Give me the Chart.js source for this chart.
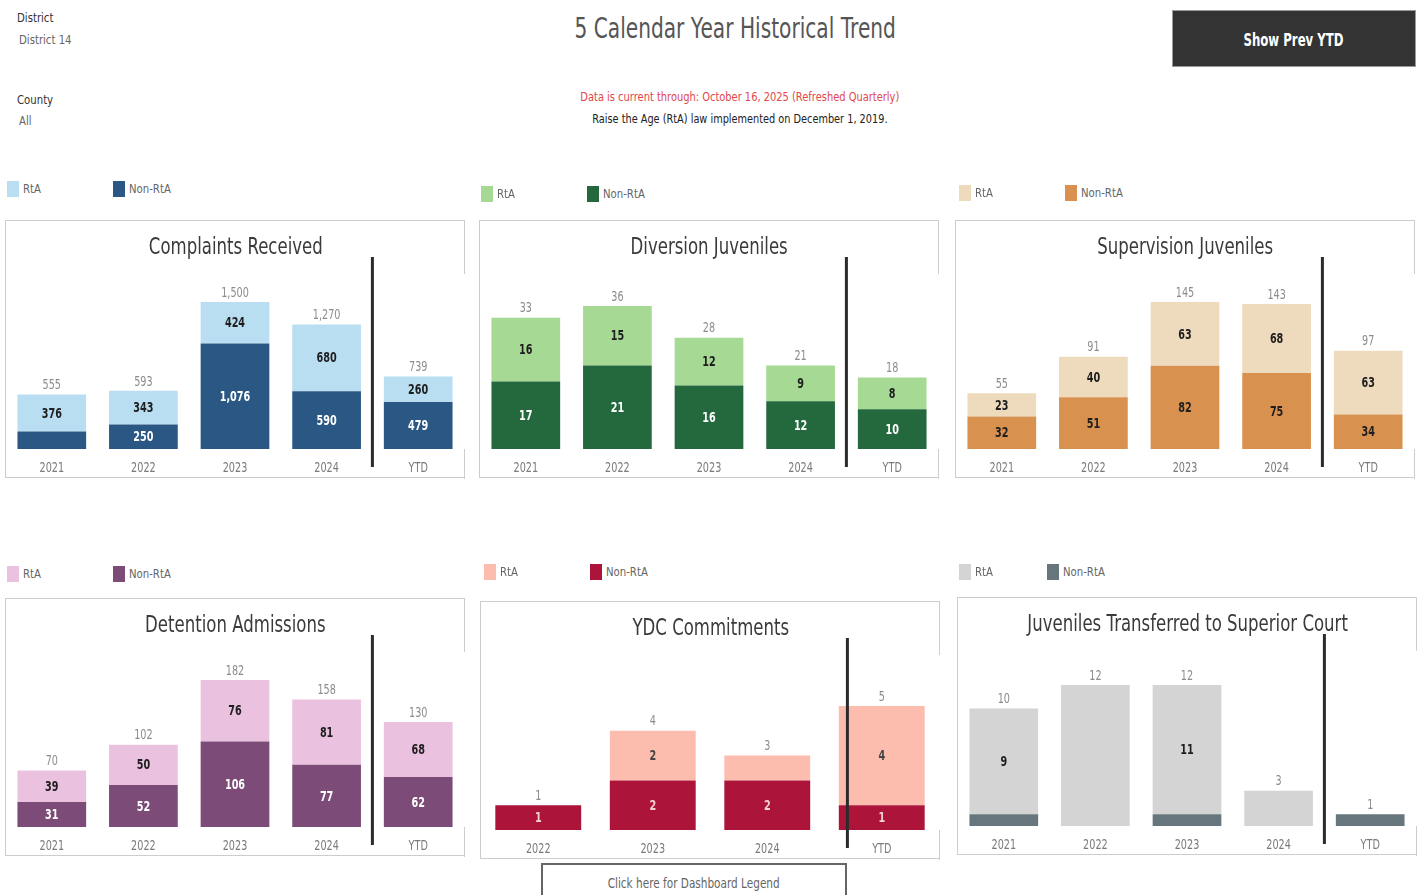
<!DOCTYPE html>
<html>
<head>
<meta charset="utf-8">
<script src="https://cdn.jsdelivr.net/npm/chart.js@4.4.1/dist/chart.umd.min.js"></script>
<style>
  body { margin: 0; background: #fff; font-family: "DejaVu Sans", sans-serif; }
  #page { position: relative; width: 1424px; height: 895px; overflow: hidden; }
  .abs { position: absolute; white-space: nowrap; }
  .n { display: inline-block; transform: scaleX(0.78); transform-origin: left center; }
  .nc { display: inline-block; transform: scaleX(0.76); transform-origin: center center; }
  .box { position: absolute; width: 460px; height: 258px; border: 1px solid #cdcdcd; border-right: none; box-sizing: border-box; }
  .box canvas { position: absolute; left: 0; top: 0; }
  .rb { position: absolute; right: 0; width: 1px; background: #cdcdcd; }
  .ptitle { position: absolute; left: 0; right: 0; top: 12px; text-align: center; font-size: 23px; color: #3a3a3a; white-space: nowrap; }
  .ptitle span { display: inline-block; transform: scaleX(0.72); transform-origin: center center; }
  .leg { position: absolute; font-size: 13px; color: #666; white-space: nowrap; }
  .leg span.sw { position: absolute; left: 0; top: 0; width: 12px; height: 16px; }
  .leg span.tx { position: absolute; left: 16px; top: 0; line-height: 16px; transform: scaleX(0.78); transform-origin: left center; }
</style>
</head>
<body>
<div id="page">
  <div class="abs" style="left:17px;top:10px;font-size:13px;color:#333;"><span class="n">District</span></div>
  <div class="abs" style="left:19px;top:32px;font-size:13px;color:#666;"><span class="n">District 14</span></div>
  <div class="abs" style="left:17px;top:92px;font-size:13px;color:#333;"><span class="n">County</span></div>
  <div class="abs" style="left:19px;top:113px;font-size:13px;color:#666;"><span class="n">All</span></div>

  <div class="abs" style="left:485px;width:500px;top:12px;text-align:center;font-size:28px;color:#555;"><span class="nc" style="transform:scaleX(0.72)">5 Calendar Year Historical Trend</span></div>
  <div class="abs" style="left:490px;width:500px;top:89px;text-align:center;font-size:13px;color:#e0474c;"><span class="nc">Data is current through: October 16, 2025 (Refreshed Quarterly)</span></div>
  <div class="abs" style="left:490px;width:500px;top:111px;text-align:center;font-size:13px;color:#222;"><span class="nc" style="transform:scaleX(0.75)">Raise the Age (RtA) law implemented on December 1, 2019.</span></div>

  <div class="abs" style="left:1172px;top:10px;width:244px;height:57px;background:#333;border:1px solid #999;box-sizing:border-box;color:#fff;font-size:17px;font-weight:bold;text-align:center;line-height:59px;"><span class="nc" style="transform:scaleX(0.69)">Show Prev YTD</span></div>

  <div class="abs" style="left:541px;top:863px;width:306px;height:40px;border:2px solid #666;box-sizing:border-box;color:#666;font-size:14px;text-align:center;line-height:36px;"><span class="nc" style="transform:scaleX(0.75)">Click here for Dashboard Legend</span></div>
</div>

<script>
const FONT = '"DejaVu Sans", sans-serif';
const SQUEEZE = 0.69;

// categories
const years = ['2021', '2022', '2023', '2024', 'YTD'];
const ydcYears = ['2022', '2023', '2024', 'YTD'];

// series values (RtA on top, Non-RtA at the bottom)
const complaintsRta = [376, 343, 424, 680, 260];
const complaintsNon = [179, 250, 1076, 590, 479];

const diversionRta = [16, 15, 12, 9, 8];
const diversionNon = [17, 21, 16, 12, 10];

const supervisionRta = [23, 40, 63, 68, 63];
const supervisionNon = [32, 51, 82, 75, 34];

const detentionRta = [39, 50, 76, 81, 68];
const detentionNon = [31, 52, 106, 77, 62];

const ydcRta = [0, 2, 1, 4];
const ydcNon = [1, 2, 2, 1];

const transferRta = [9, 12, 11, 3, 0];
const transferNon = [1, 0, 1, 0, 1];

// axis tops
const axisMax = [1918, 47.3, 185.4, 232.8, 7.58, 16.0];

const panels = [
  { title: 'Complaints Received', labels: years, rta: complaintsRta, non: complaintsNon, max: axisMax[0],
    left: 5, top: 220, legTop: 181, legLeft: [7, 113],
    colors: ['#2a5783', '#b9ddf1'], text: ['#ffffff', '#1e1e1e'], hide: ['0:0'] },
  { title: 'Diversion Juveniles', labels: years, rta: diversionRta, non: diversionNon, max: axisMax[1],
    left: 479, top: 220, legTop: 186, legLeft: [481, 587],
    colors: ['#24693d', '#a6da94'], text: ['#ffffff', '#1e1e1e'], hide: [] },
  { title: 'Supervision Juveniles', labels: years, rta: supervisionRta, non: supervisionNon, max: axisMax[2],
    left: 955, top: 220, legTop: 185, legLeft: [959, 1065],
    colors: ['#d99150', '#eedbbd'], text: ['#1e1e1e', '#1e1e1e'], hide: [] },
  { title: 'Detention Admissions', labels: years, rta: detentionRta, non: detentionNon, max: axisMax[3],
    left: 5, top: 598, legTop: 566, legLeft: [7, 113],
    colors: ['#7c4b77', '#eac1df'], text: ['#ffffff', '#1e1e1e'], hide: [] },
  { title: 'YDC Commitments', labels: ydcYears, rta: ydcRta, non: ydcNon, max: axisMax[4],
    left: 480, top: 601, legTop: 564, legLeft: [484, 590],
    colors: ['#ad143a', '#fdbdae'], text: ['#f6d3d3', '#444444'], hide: ['1:2'] },
  { title: 'Juveniles Transferred to Superior Court', labels: years, rta: transferRta, non: transferNon, max: axisMax[5],
    left: 957, top: 597, legTop: 564, legLeft: [959, 1047],
    colors: ['#67767d', '#d4d4d4'], text: ['#ffffff', '#1e1e1e'], hide: ['0:0', '0:2', '0:4', '1:1', '1:3'] }
];

// narrow text, the dashboard font is condensed
function narrowText(ctx, str, x, y, font, color) {
  ctx.save();
  ctx.font = font;
  ctx.fillStyle = color;
  ctx.textAlign = 'center';
  ctx.textBaseline = 'middle';
  ctx.translate(x, y);
  ctx.scale(SQUEEZE, 1);
  ctx.fillText(str, 0, 0);
  ctx.restore();
}

// segment labels, totals, year labels and the YTD separator
const barLabels = {
  id: 'barLabels',
  afterDatasetsDraw(chart, args, opts) {
    const ctx = chart.ctx;
    const xScale = chart.scales.x;
    const yScale = chart.scales.y;
    chart.data.datasets.forEach((ds, di) => {
      const meta = chart.getDatasetMeta(di);
      meta.data.forEach((bar, i) => {
        const v = ds.data[i];
        if (!v || opts.hide.includes(di + ':' + i)) return;
        narrowText(ctx, v.toLocaleString('en-US'), bar.x, (bar.y + bar.base) / 2 + 1, 'bold 14px ' + FONT, opts.text[di]);
      });
    });
    chart.data.labels.forEach((lab, i) => {
      const total = chart.data.datasets.reduce((s, ds) => s + (ds.data[i] || 0), 0);
      const x = xScale.getPixelForValue(i);
      narrowText(ctx, total.toLocaleString('en-US'), x, yScale.getPixelForValue(total) - 9, '14px ' + FONT, '#8c8c8c');
      narrowText(ctx, lab, x, chart.chartArea.bottom + 19, '14px ' + FONT, '#7a7a7a');
    });
    const a = chart.chartArea;
    const sx = a.left + (a.right - a.left) * 0.8;
    ctx.save();
    ctx.strokeStyle = '#2b2b2b';
    ctx.lineWidth = 3;
    ctx.beginPath();
    ctx.moveTo(sx, 36);
    ctx.lineTo(sx, 246);
    ctx.stroke();
    ctx.restore();
  }
};

const page = document.getElementById('page');

panels.forEach((p, idx) => {
  // legend
  ['RtA', 'Non-RtA'].forEach((name, k) => {
    const leg = document.createElement('div');
    leg.className = 'leg';
    leg.style.left = p.legLeft[k] + 'px';
    leg.style.top = p.legTop + 'px';
    leg.innerHTML = '<span class="sw" style="background:' + (k === 0 ? p.colors[1] : p.colors[0]) + '"></span><span class="tx">' + name + '</span>';
    page.appendChild(leg);
  });

  const box = document.createElement('div');
  box.className = 'box';
  box.style.left = p.left + 'px';
  box.style.top = p.top + 'px';
  const canvas = document.createElement('canvas');
  canvas.width = 459;
  canvas.height = 256;
  canvas.id = 'chart' + idx;
  box.appendChild(canvas);
  const t = document.createElement('div');
  t.className = 'ptitle';
  t.innerHTML = '<span>' + p.title + '</span>';
  box.appendChild(t);
  // right edge is only drawn at the top and bottom
  const rTop = document.createElement('div');
  rTop.className = 'rb';
  rTop.style.top = '-1px';
  rTop.style.height = '54px';
  box.appendChild(rTop);
  const rBot = document.createElement('div');
  rBot.className = 'rb';
  rBot.style.top = '228px';
  rBot.style.height = '30px';
  box.appendChild(rBot);
  page.appendChild(box);

  new Chart(canvas.getContext('2d'), {
    type: 'bar',
    data: {
      labels: p.labels,
      datasets: [
        { label: 'Non-RtA', data: p.non, backgroundColor: p.colors[0] },
        { label: 'RtA', data: p.rta, backgroundColor: p.colors[1] }
      ]
    },
    options: {
      responsive: false,
      animation: false,
      layout: { padding: { top: 40, bottom: 28, left: 0, right: 1 } },
      datasets: { bar: { barPercentage: 0.75, categoryPercentage: 1 } },
      scales: {
        x: {
          stacked: true,
          grid: { display: false, drawTicks: false },
          border: { display: false },
          ticks: { display: false }
        },
        y: { stacked: true, display: false, min: 0, max: p.max }
      },
      plugins: {
        legend: { display: false },
        tooltip: { enabled: false },
        barLabels: { hide: p.hide, text: p.text }
      }
    },
    plugins: [barLabels]
  });
});
</script>
</body>
</html>
